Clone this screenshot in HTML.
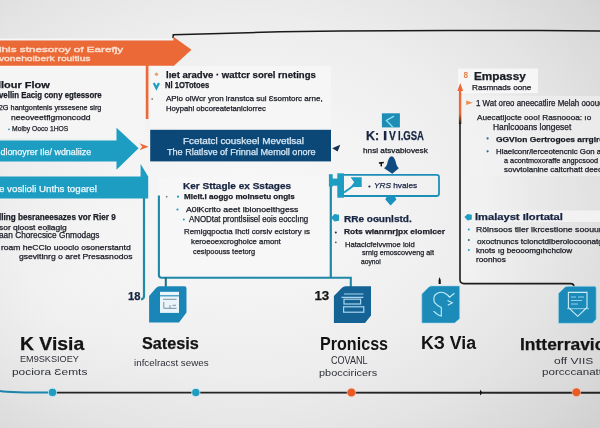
<!DOCTYPE html>
<html><head><meta charset="utf-8"><style>
html,body{margin:0;padding:0;}
body{width:600px;height:428px;overflow:hidden;position:relative;font-family:'Liberation Sans', sans-serif;
background:radial-gradient(ellipse 160px 130px at 60px 290px, rgba(255,255,255,0.25), rgba(255,255,255,0)),radial-gradient(ellipse 600px 448px at 246px 198px, #f7f7f7 0%, #f4f4f4 20%, #ededed 40%, #e4e4e4 55%, #d8d8d8 70%, #c9c9c9 85%, #b8b8b8 100%);}
.t{position:absolute;white-space:nowrap;line-height:1;transform-origin:0 0;-webkit-text-stroke:0.25px currentColor;}
svg{position:absolute;left:0;top:0;}

</style></head><body>
<div id="w" style="position:absolute;left:0;top:0;width:600px;height:428px;filter:blur(0.3px)">
<svg width="600" height="428" viewBox="0 0 600 428">
<!-- subtle panels -->
<rect x="0" y="66.5" width="145" height="72" fill="#f5f5f5"/>
<rect x="159" y="177" width="171" height="99" fill="#f7f7f7"/>
<rect x="458" y="68.5" width="80" height="24.5" fill="#f6f6f6"/>
<defs><linearGradient id="bx" x1="0" y1="0" x2="1" y2="0"><stop offset="0" stop-color="#fff" stop-opacity="0.3"/><stop offset="0.55" stop-color="#fff" stop-opacity="0.05"/><stop offset="1" stop-color="#fff" stop-opacity="0"/></linearGradient></defs>
<rect x="461" y="92" width="139" height="191" fill="url(#bx)"/>
<rect x="462" y="96" width="138" height="80" fill="#f2f2f2" opacity="0.6"/>
<rect x="150.5" y="66" width="180.5" height="62" fill="#f6f6f6"/>
<rect x="462" y="210.5" width="138" height="11.5" fill="#f2f2f2"/>
<!-- top black line -->
<polyline points="173,38 173.3,34.7 230,33.2 280,31.7 340,31.1 450,30.5 540,30.4 600,30.9" stroke="#1a1a1a" stroke-width="1.5" fill="none"/>
<!-- orange band arrow -->
<rect x="0" y="38.6" width="173" height="1.8" fill="#f7f7f7"/>
<rect x="0" y="65.6" width="145.8" height="2" fill="#fbf5f2"/>
<polygon points="0,40.4 173.4,40.4 173.4,36.7 191.5,49.8 173.4,66.3 173.4,65.8 0,65.8" fill="#ea6936"/>
<rect x="145.8" y="65" width="2.6" height="54" fill="#ea6936"/>
<!-- blue arrow 1 -->
<polygon points="0,140.6 116.5,140.6 116.5,127.7 138.6,148.2 116.5,169.8 116.5,161.6 0,161.6" fill="#1d9dc2"/>
<!-- small orange arrow -->
<polygon points="139.5,143.3 148.6,146.8 139.5,150.2 142.3,146.8" fill="#ea6936"/>
<!-- navy box -->
<rect x="150.2" y="129.8" width="180.8" height="31.6" fill="#0b4878"/>
<polygon points="332.2,148.2 340.3,144.8 337.6,151.6" fill="#15304e"/>
<!-- blue band 2 -->
<polygon points="0,176.6 140.6,176.6 140.6,164 148.2,176.6 148.2,198.6 0,198.6" fill="#1d9dc2"/>
<path d="M144,198 L144,296 Q144,299 141,299.5" stroke="#1f8ba8" stroke-width="2.2" fill="none"/>
<!-- key stages box lines -->
<path d="M158.9,195.5 L158.9,275 Q158.9,277.7 161.5,277.7 L350.8,277.7 L350.8,287" stroke="#1f88a8" stroke-width="2.1" fill="none"/>
<rect x="164.8" y="277" width="2" height="10" fill="#1d6f88"/>
<path d="M330.8,186 L330.8,277.6" stroke="#1f88a8" stroke-width="2.2" fill="none"/>
<!-- YRS box -->
<path d="M344,174.8 L436.6,174.8 Q439,174.8 439,177 L439,193.5 Q439,196 436.6,196 L344,196" stroke="#1c8fb8" stroke-width="1.8" fill="none"/>
<rect x="328.9" y="174.2" width="3.8" height="12.5" fill="#1d9dc2"/>
<rect x="329" y="178.6" width="9" height="7.1" fill="#1d9dc2"/>
<rect x="337.3" y="173.3" width="6.7" height="24.4" fill="#1d9dc2"/>
<polygon points="350.6,177.3 361.7,177.3 361.7,187.1 350.6,187.1 354.2,182.2" fill="#1d9dc2"/>
<path d="M352.5,186.5 L344,192.5" stroke="#1d9dc2" stroke-width="2"/>
<polygon points="387,196 394.5,196 396.4,199.5 390.6,205.5 385.3,199.5" fill="#1a90bf"/>
<!-- navy bell -->
<path d="M391.6,156.2 C394,156.5 395.5,160 396,163 C396.5,165.5 397.8,167.2 398.8,168.3 L392.3,173.8 L384.1,168.3 C385.3,167.2 387,165.5 387.4,163 C388,160 389.4,156.5 391.6,156.2 Z" fill="#0f4a80"/>
<path d="M378.9,163 L383.8,162.6 M381.4,162.8 L381.2,166.4" stroke="#111" stroke-width="1.5"/>
<!-- teal square K:IVLGSA -->
<rect x="381.9" y="113.3" width="18" height="14.1" fill="#1d8db5"/>
<path d="M394,116.1 L386.4,120.4 L392.9,127.2" stroke="#8fe0f2" stroke-width="1.3" fill="none"/>
<!-- pins -->
<path d="M331,217.8 L334.5,214 L339,214.8 L339,220.8 L334.5,221.6 Z" fill="#1d9dc2"/>
<path d="M464.4,217 L467.6,214 L471.8,214.8 L471.8,219.6 L467.6,220.4 Z" fill="#1d9dc2"/>
<!-- right black box line -->
<path d="M460,123 L460,279.6 Q460,283.6 464,283.6 L570.5,283.6 Q574,283.6 574,287" stroke="#1c1c1c" stroke-width="1.6" fill="none"/>
<!-- orange up arrow -->
<defs><linearGradient id="ob" x1="0" y1="0" x2="0" y2="1"><stop offset="0" stop-color="#ea6936"/><stop offset="0.72" stop-color="#ea6936"/><stop offset="1" stop-color="#1c1c1c"/></linearGradient></defs>
<rect x="458.9" y="88" width="2.4" height="36" fill="url(#ob)"/>
<polygon points="457.4,91 460.2,83 463.2,91" fill="#ea6936"/>
<!-- small orange markers -->
<circle cx="156.5" cy="74.3" r="1.7" fill="#e9a474"/>
<polygon points="466.2,100.4 472.8,102.7 466.2,105" fill="#eb8e55"/>
<text x="463.6" y="78.3" font-size="8.2" font-weight="bold" fill="#e4844f" font-family="Liberation Sans">8</text>
<!-- teal V -->
<path d="M153.8,83 L156.4,88.3 L159,83" stroke="#1d9dc2" stroke-width="2.2" fill="none"/>
<!-- bullets -->
<g fill="#1d9dc2">
<circle cx="9" cy="129.3" r="0.9"/>
<circle cx="152.2" cy="99" r="0.9" fill="#a08070"/>
<circle cx="166.7" cy="196.7" r="0.9" fill="#6a8a90"/>
<circle cx="178" cy="196.7" r="1.1"/>
<circle cx="177.5" cy="209.5" r="1.1"/>
<circle cx="183.8" cy="219.5" r="1.0"/>
<circle cx="369.4" cy="186.5" r="1.1" fill="#1b2d52"/>
<circle cx="335.8" cy="232.5" r="1.0" fill="#1b2d52"/>
<circle cx="335.8" cy="242.3" r="0.9" fill="#556"/>
<circle cx="487.6" cy="138.4" r="1.1" fill="#2a6a80"/>
<circle cx="487.6" cy="151.3" r="1.1" fill="#2a6a80"/>
<circle cx="468.8" cy="229.5" r="1.0"/>
<circle cx="468.8" cy="240" r="1.0" fill="#2a6a80"/>
<circle cx="468.8" cy="250" r="1.0"/>
</g>
<!-- icon 1 -->
<path d="M158,286.3 L184.5,286.3 Q186.5,286.3 186.5,288.3 L186.5,312.5 L179,322.6 L149.1,322.6 L149.1,296 L156,288 Q157.5,286.3 159.5,286.3 Z" fill="#1a86b8"/>
<rect x="160" y="291.8" width="19" height="21.1" fill="#e9f5fb"/>
<rect x="160" y="295.2" width="19" height="1.2" fill="#2d8fbe"/>
<g stroke="#6f8797" stroke-width="0.9" fill="none">
<path d="M163,299.3 L176.5,299.3"/>
<path d="M163.8,302 L163.8,308.3 L176.5,308.3 M170,305 L170,308.3 M172.5,305.3 L176,305.3"/>
</g>
<!-- icon 2 -->
<path d="M344,286.2 L371,286.2 L371,315.4 L365,323 L333.9,323 L333.9,296.1 L342,287.8 Q343.5,286.2 345.5,286.2 Z" fill="#156294"/>
<g stroke="#a9d6ee" stroke-width="1.2" fill="none">
<path d="M344,294 L363.4,294 M341.5,297.3 L363.4,297.3"/>
<rect x="344" y="299.2" width="16.6" height="4.8"/>
<rect x="343.6" y="306.8" width="20.2" height="5.4"/>
</g>
<!-- icon 3 -->
<path d="M430,285.9 L459.7,285.9 L459.7,318.7 L454.6,323.1 L421.8,323.1 L421.8,294 L428.3,287.4 Q429.5,285.9 431.5,285.9 Z" fill="#1d8bb9" stroke="#a8dcef" stroke-width="0.6"/>
<path d="M433.6,311.2 Q438,315.5 441.3,316 L441.3,307.5 Q437,305.5 434.4,302.3 Q433,297 435.5,294.5 Q440,291 444.5,293 Q448.5,295 449.2,297.2 M449.2,297.5 L454.4,293.3 M447.5,300.5 L452.3,302.8 L447.8,305.2" stroke="#c5eef9" stroke-width="1.1" fill="none"/>
<path d="M439.6,277 Q438,280 438.6,284 L440.8,284 Q441.4,280 439.6,277 Z" fill="#111"/>
<!-- icon 4 -->
<path d="M566,286.3 L594.7,286.3 Q596.2,286.3 596.2,288 L596.2,319.2 L592.3,323.3 L558.4,323.3 L558.4,293.5 L564.5,287.6 Q565.8,286.3 567.5,286.3 Z" fill="#1b8ab8" stroke="#a8dcef" stroke-width="0.6"/>
<path d="M568.4,292.4 L587,292.4 L587,307.5 L577.7,316.3 L568.4,307.5 Z" stroke="#cdeef8" stroke-width="1.1" fill="none"/>
<path d="M571,297 L576,297 M578,297 L584,297 M571,300.5 L582,300.5 M571,304 L578,304 M567,308.7 L589,308.7" stroke="#cdeef8" stroke-width="0.7"/>
<!-- timeline -->
<path d="M0,390.9 Q10,392.6 52,392.6" stroke="#1c83ab" stroke-width="2" fill="none"/>
<path d="M52,392.6 L600,392.7" stroke="#242424" stroke-width="1.9" fill="none"/>
<circle cx="52.5" cy="392.4" r="4.1" fill="#1f9cc0" stroke="#c8f0fa" stroke-width="0.8"/>
<circle cx="195.8" cy="392.5" r="4.1" fill="#1f9cc0" stroke="#c8f0fa" stroke-width="0.8"/>
<circle cx="351.4" cy="392.5" r="4.3" fill="#ea5a25" stroke="#f7c9b5" stroke-width="0.6"/>
<circle cx="576.4" cy="392.3" r="4.3" fill="#ea5a25" stroke="#f7c9b5" stroke-width="0.6"/>
<path d="M480,389.8 Q483.8,392.7 480,395.6 Z" fill="#111"/>
</svg>
<div class="t" style="left:-1.4px;top:45.5px;font-size:7.5px;font-weight:normal;color:#fbdccb;transform:scaleX(1.560);-webkit-text-stroke:0.4px currentColor">lhis stnesoroy of Earefjy</div><div class="t" style="left:-0.7px;top:55.0px;font-size:8px;font-weight:normal;color:#fbdccb;transform:scaleX(1.277);-webkit-text-stroke:0.4px currentColor">vonehoiberk rouitius</div><div class="t" style="left:-1.9px;top:80.6px;font-size:9.2px;font-weight:bold;color:#191b24;transform:scaleX(1.193);">llour Flow</div><div class="t" style="left:-1.0px;top:90.8px;font-size:8.3px;font-weight:bold;color:#191b24;transform:scaleX(0.943);">vellin Eacig cony egtessore</div><div class="t" style="left:-1.2px;top:104.2px;font-size:7.3px;font-weight:normal;color:#191b24;">2G hantgontenis yrssesene sirg</div><div class="t" style="left:11.4px;top:114.0px;font-size:7.3px;font-weight:normal;color:#191b24;transform:scaleX(1.172);">neeoveetfigmoncodd</div><div class="t" style="left:11.8px;top:125.4px;font-size:7.8px;font-weight:normal;color:#191b24;transform:scaleX(0.867);">Molby Ooco 1HOS</div><div class="t" style="left:-1.8px;top:148.0px;font-size:8.4px;font-weight:normal;color:#eef8fc;transform:scaleX(1.064);">Idlonoyrer Ile/ wdnaliize</div><div class="t" style="left:-1.3px;top:185.2px;font-size:9.0px;font-weight:normal;color:#eef8fc;transform:scaleX(1.081);">e voslioli Unths togarel</div><div class="t" style="left:-1.5px;top:213.7px;font-size:8.2px;font-weight:bold;color:#191b24;transform:scaleX(0.994);">lling besraneesazes vor Rier 9</div><div class="t" style="left:-1.3px;top:223.5px;font-size:7.5px;font-weight:normal;color:#191b24;transform:scaleX(1.121);">sor qioost eoliagig</div><div class="t" style="left:-1.3px;top:232.0px;font-size:8.2px;font-weight:normal;color:#191b24;transform:scaleX(1.013);">aan Chorecsice Gnmodags</div><div class="t" style="left:0.9px;top:243.6px;font-size:7.5px;font-weight:normal;color:#191b24;transform:scaleX(1.140);">roam heCClo uooclo osonerstantd</div><div class="t" style="left:18.7px;top:253.0px;font-size:7.7px;font-weight:normal;color:#191b24;transform:scaleX(1.116);">gsevitlnrg o aret Presasnodos</div><div class="t" style="left:165.5px;top:70.7px;font-size:9.0px;font-weight:bold;color:#191b24;transform:scaleX(1.062);">lıet aradve · wattcr sorel rnetings</div><div class="t" style="left:164.8px;top:81.7px;font-size:8.2px;font-weight:bold;color:#191b24;transform:scaleX(0.928);">Nl 1OTotoes</div><div class="t" style="left:166.0px;top:94.7px;font-size:7.2px;font-weight:normal;color:#191b24;transform:scaleX(1.118);">APlo olWcr yron lranstca sul Ɛsomtorc arne,</div><div class="t" style="left:165.5px;top:104.6px;font-size:7.2px;font-weight:normal;color:#191b24;transform:scaleX(1.067);">Hoypahl obcoreatetanlclorrec</div><div class="t" style="left:183.1px;top:137.0px;font-size:8.3px;font-weight:normal;color:#d6e7f4;transform:scaleX(1.193);">Fcetatcl couskeel Mevetlsal</div><div class="t" style="left:167.4px;top:148.0px;font-size:8.3px;font-weight:normal;color:#d6e7f4;transform:scaleX(1.096);">The Rlatlsve of Frinnal Memoll onore</div><div class="t" style="left:365.5px;top:129.2px;font-size:13.6px;font-weight:bold;color:#172442;transform:scaleX(0.917);">K:</div><div class="t" style="left:382.9px;top:129.2px;font-size:13.6px;font-weight:bold;color:#172442;transform:scaleX(1.100);">I</div><div class="t" style="left:389.3px;top:129.2px;font-size:13.6px;font-weight:bold;color:#172442;transform:scaleX(0.754);">V</div><div class="t" style="left:398.2px;top:129.2px;font-size:13.6px;font-weight:bold;color:#172442;transform:scaleX(0.701);">I.GSA</div><div class="t" style="left:362.9px;top:147.0px;font-size:7.0px;font-weight:normal;color:#191b24;transform:scaleX(1.173);">hnsl atsvabiovesk</div><div class="t" style="left:373.6px;top:182.0px;font-size:8.0px;font-weight:normal;color:#172442;transform:scaleX(1.032);"><i>YRS</i> hvaies</div><div class="t" style="left:183.3px;top:181.7px;font-size:9.2px;font-weight:bold;color:#172442;transform:scaleX(1.091);">Ker Sttagle ex Sstages</div><div class="t" style="left:183.6px;top:193.0px;font-size:7.6px;font-weight:bold;color:#191b24;transform:scaleX(1.059);">Mlelt.l aoggo molnsetu ongis</div><div class="t" style="left:185.5px;top:205.6px;font-size:7.3px;font-weight:normal;color:#191b24;transform:scaleX(1.195);">A0lKcrito aeet lblonoelthgess</div><div class="t" style="left:189.3px;top:216.2px;font-size:8.2px;font-weight:normal;color:#191b24;transform:scaleX(0.963);">ANODtat prontlsiisel eois eocclıng</div><div class="t" style="left:184.4px;top:227.7px;font-size:7.7px;font-weight:normal;color:#191b24;transform:scaleX(1.028);">Remigqpoctıa Ihctl corsiv ecistory ıs</div><div class="t" style="left:191.2px;top:237.6px;font-size:7.3px;font-weight:normal;color:#191b24;transform:scaleX(1.069);">keroeoexcroghoice amont</div><div class="t" style="left:192.7px;top:248.1px;font-size:7.3px;font-weight:normal;color:#191b24;transform:scaleX(1.015);">cesipoouss teetorg</div><div class="t" style="left:343.5px;top:214.5px;font-size:9.3px;font-weight:bold;color:#172442;transform:scaleX(1.079);">RRe oɢunlstd.</div><div class="t" style="left:344.1px;top:228.1px;font-size:7.5px;font-weight:bold;color:#191b24;transform:scaleX(1.127);">Rots wianrnrjpx elomicer</div><div class="t" style="left:344.6px;top:240.9px;font-size:7.4px;font-weight:normal;color:#191b24;transform:scaleX(1.029);">Hataclcfelvvmoe iold</div><div class="t" style="left:361.5px;top:249.1px;font-size:7.3px;font-weight:normal;color:#191b24;transform:scaleX(0.991);">srnig emoscovveng alt</div><div class="t" style="left:360.8px;top:257.5px;font-size:7.3px;font-weight:normal;color:#191b24;transform:scaleX(0.916);">aoynoi</div><div class="t" style="left:473.8px;top:71.9px;font-size:10.1px;font-weight:bold;color:#191b24;transform:scaleX(1.168);">Empassy</div><div class="t" style="left:471.7px;top:85.4px;font-size:7.1px;font-weight:normal;color:#191b24;transform:scaleX(1.147);">Rasmnads oone</div><div class="t" style="left:475.9px;top:98.9px;font-size:8.3px;font-weight:normal;color:#191b24;transform:scaleX(0.955);">1 Wat oreo aneecatlire Melah oooue</div><div class="t" style="left:477.2px;top:113.5px;font-size:7.8px;font-weight:normal;color:#191b24;transform:scaleX(1.054);">Auecatljocte ooo! Rasnoooa: ıo</div><div class="t" style="left:492.7px;top:123.6px;font-size:8.2px;font-weight:normal;color:#191b24;transform:scaleX(1.023);">Hanlcooans longeset</div><div class="t" style="left:496.1px;top:135.9px;font-size:8.0px;font-weight:bold;color:#191b24;transform:scaleX(1.052);">GGVlon Gertrogoes arrgirc</div><div class="t" style="left:495.8px;top:147.8px;font-size:7.0px;font-weight:normal;color:#191b24;transform:scaleX(1.122);">Hlaelconr/lerceotencnic Gon a</div><div class="t" style="left:503.8px;top:157.3px;font-size:7.5px;font-weight:normal;color:#191b24;transform:scaleX(0.974);">a acontmoxoraffe angpcsood</div><div class="t" style="left:503.7px;top:165.5px;font-size:7.5px;font-weight:normal;color:#191b24;transform:scaleX(1.059);">sovvtolanine caltcrhatt deeo</div><div class="t" style="left:475.3px;top:213.4px;font-size:9.0px;font-weight:bold;color:#172442;transform:scaleX(1.237);">lmalayst Ilortatal</div><div class="t" style="left:476.3px;top:225.9px;font-size:7.4px;font-weight:normal;color:#191b24;transform:scaleX(1.177);">Rölnsoos tller lkrcestlone soouur</div><div class="t" style="left:476.6px;top:237.5px;font-size:7.0px;font-weight:normal;color:#191b24;transform:scaleX(1.172);">oxoctnuncs tcionctdlberolocoonatg</div><div class="t" style="left:476.3px;top:247.8px;font-size:7.1px;font-weight:normal;color:#191b24;transform:scaleX(1.145);">knots ıg beooomgıhchclow</div><div class="t" style="left:476.3px;top:257.4px;font-size:7.1px;font-weight:normal;color:#191b24;transform:scaleX(1.164);">roonhos</div><div class="t" style="left:19.9px;top:334.5px;font-size:18.5px;font-weight:bold;color:#141414;transform:scaleX(1.046);">K Visia</div><div class="t" style="left:20.4px;top:355.2px;font-size:8.7px;font-weight:normal;color:#2e3038;transform:scaleX(1.051);-webkit-text-stroke:0">EM9SKSIOEY</div><div class="t" style="left:11.6px;top:366.7px;font-size:9.4px;font-weight:normal;color:#2e3038;transform:scaleX(1.270);-webkit-text-stroke:0">pociora Ɛemts</div><div class="t" style="left:128.4px;top:292.0px;font-size:10px;font-weight:bold;color:#172442;transform:scaleX(1.122);">18</div><div class="t" style="left:141.7px;top:335.2px;font-size:17.4px;font-weight:bold;color:#141414;transform:scaleX(0.934);">Satesis</div><div class="t" style="left:134.1px;top:359.4px;font-size:8.8px;font-weight:normal;color:#2e3038;transform:scaleX(1.114);-webkit-text-stroke:0">infcelracst sewes</div><div class="t" style="left:314.4px;top:288.5px;font-size:13.3px;font-weight:bold;color:#141414;">13</div><div class="t" style="left:319.7px;top:335.5px;font-size:17.8px;font-weight:bold;color:#141414;transform:scaleX(0.906);-webkit-text-stroke:0">Pronicss</div><div class="t" style="left:331.3px;top:356.3px;font-size:10.2px;font-weight:normal;color:#2e3038;transform:scaleX(0.889);-webkit-text-stroke:0">COVANL</div><div class="t" style="left:318.7px;top:367.7px;font-size:9.5px;font-weight:normal;color:#2e3038;transform:scaleX(1.148);-webkit-text-stroke:0">pbocciricers</div><div class="t" style="left:421.3px;top:333.5px;font-size:18.8px;font-weight:bold;color:#141414;transform:scaleX(0.943);-webkit-text-stroke:0">KЗ Via</div><div class="t" style="left:520.1px;top:336.0px;font-size:16.4px;font-weight:bold;color:#141414;transform:scaleX(1.065);">Intterravic</div><div class="t" style="left:554.1px;top:355.5px;font-size:9.8px;font-weight:normal;color:#2e3038;transform:scaleX(1.229);-webkit-text-stroke:0">off VIIS</div><div class="t" style="left:542.1px;top:367.5px;font-size:9.0px;font-weight:normal;color:#2e3038;transform:scaleX(1.291);-webkit-text-stroke:0">porcccanatti</div>
</div>

</body></html>
